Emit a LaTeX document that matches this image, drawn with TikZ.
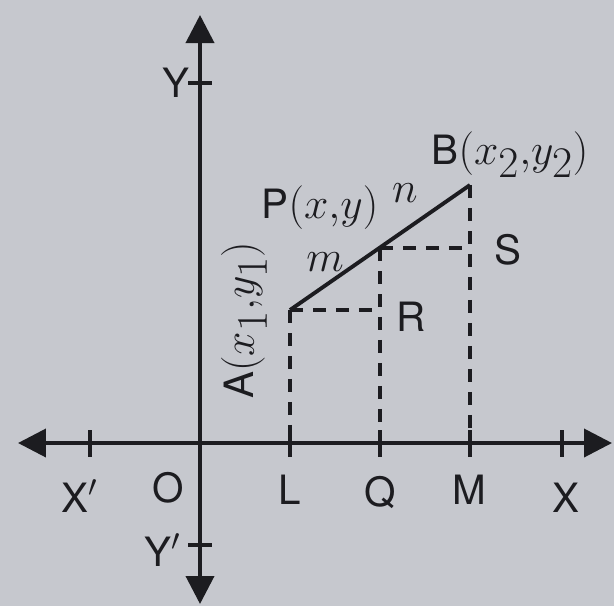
\documentclass[tikz,border=0pt]{standalone}
\usepackage{fontspec}
\setmainfont{TeX Gyre Heros}
\usetikzlibrary{arrows.meta}
\definecolor{paper}{RGB}{198,200,206}
\definecolor{ink}{RGB}{28,28,32}

\begin{document}
\begin{tikzpicture}[
    x=0.02cm, y=-0.02cm,
    tip/.tip={Triangle[length=0.56cm, width=0.56cm]},
    axis/.style={draw=ink, line width=2.2pt, {tip}-{tip}},
    tick/.style={draw=ink, line width=2pt},
    seg/.style={draw=ink, line width=2.2pt},
    proj/.style={draw=ink, line width=2.2pt, dash pattern=on 0.26cm off 0.2cm},
    lbl/.style={text=ink, font=\fontsize{23}{26}\selectfont, inner sep=1pt},
]

% Background (paper)
\fill[paper] (0,0) rectangle (614,606);

% Axes
\coordinate (O) at (200,443);
\coordinate (xl) at (18,443);
\coordinate (xr) at (612,443);
\coordinate (yt) at (200,15);
\coordinate (yb) at (200,604);
\draw[axis] (xl) -- (xr);
\draw[axis] (yb) -- (yt);

% Feet on the x-axis and the points
\coordinate (L) at (290,443);
\coordinate (Q) at (380,443);
\coordinate (M) at (470,443);
\coordinate (A) at (290,310);
\coordinate (P) at (380,248);
\coordinate (B) at (470,185);
\coordinate (R) at (380,310);
\coordinate (S) at (470,248);

% Ticks
\foreach \x in {90,290,380,470,562}
    \draw[tick] (\x,430) -- (\x,457);
\foreach \y in {83,545}
    \draw[tick] (188,\y) -- (212,\y);

% Segment AB and the dashed projections
\draw[seg] (A) -- (B);
\draw[proj] (A) -- (L);
\draw[proj] (P) -- (Q);
\draw[proj] (B) -- (M);
\draw[proj] (A) -- (R);
\draw[proj] (P) -- (S);

% Axis labels
\node[lbl] (lY) at (176,83) {Y};
\node[lbl] (lYp) at (163,550) {Y$'$};
\node[lbl] (lXp) at (80,496) {X$'$};
\node[lbl] (lO) at (168,488) {O};
\node[lbl] (lL) at (290,490) {L};
\node[lbl] (lQ) at (380,492) {Q};
\node[lbl] (lM) at (469,490) {M};
\node[lbl] (lX) at (566,498) {X};

% Point labels
\node[lbl, rotate=90] (lA) at (244,320) {A$(x_{\textstyle 1}{,}y_{\textstyle 1})$};
\node[lbl] (lP) at (320,208) {P$(x{,}y)$};
\node[lbl] (lB) at (510,155) {B$(x_{\textstyle 2}{,}y_{\textstyle 2})$};
\node[lbl] (ln) at (405,193) {$n$};
\node[lbl] (lm) at (325,262) {$m$};
\node[lbl] (lS) at (508,250) {S};
\node[lbl] (lR) at (411,317) {R};

\end{tikzpicture}
\end{document}
